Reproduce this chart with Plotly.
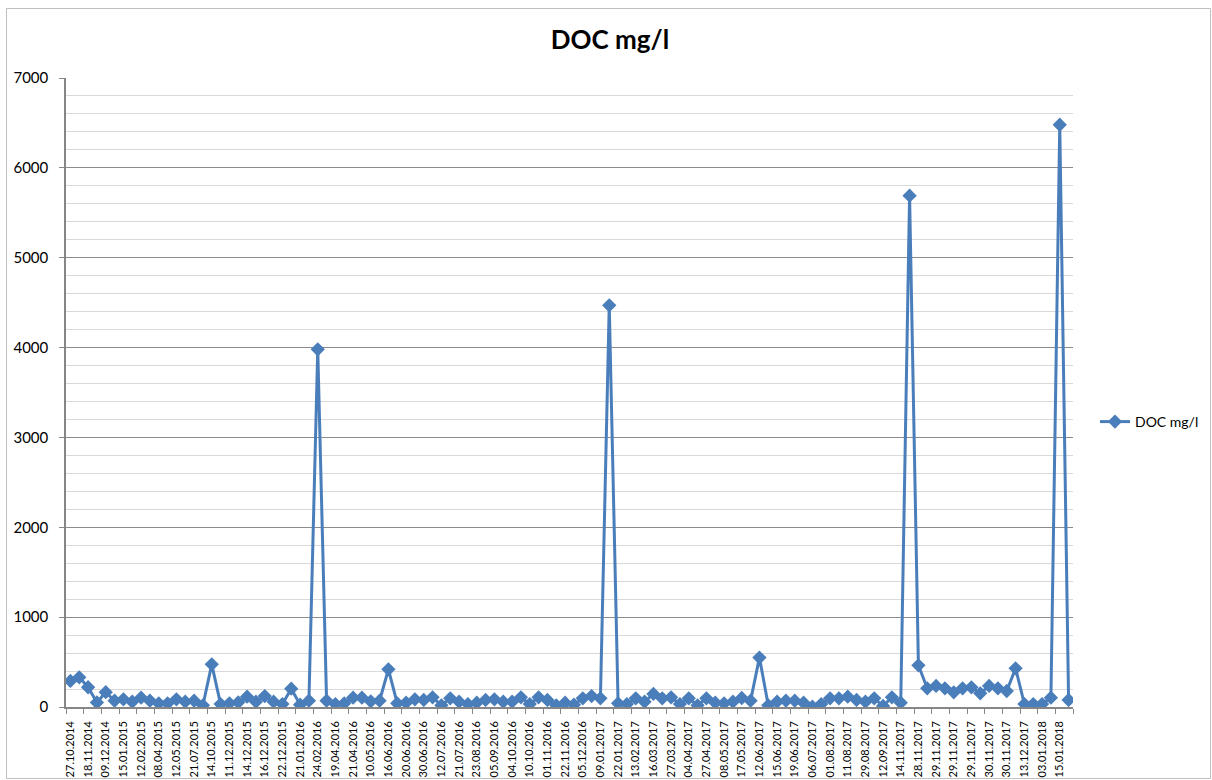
import plotly.graph_objects as go

tick_labels = [
    "27.10.2014", "18.11.2014", "09.12.2014", "15.01.2015", "12.02.2015", "08.04.2015",
    "12.05.2015", "21.07.2015", "14.10.2015", "11.12.2015", "14.12.2015", "16.12.2015",
    "22.12.2015", "21.01.2016", "24.02.2016", "19.04.2016", "21.04.2016", "10.05.2016",
    "16.06.2016", "20.06.2016", "30.06.2016", "12.07.2016", "21.07.2016", "23.08.2016",
    "05.09.2016", "04.10.2016", "10.10.2016", "01.11.2016", "22.11.2016", "05.12.2016",
    "09.01.2017", "22.01.2017", "13.02.2017", "16.03.2017", "27.03.2017", "04.04.2017",
    "27.04.2017", "08.05.2017", "17.05.2017", "12.06.2017", "15.06.2017", "19.06.2017",
    "06.07.2017", "01.08.2017", "11.08.2017", "29.08.2017", "12.09.2017", "14.11.2017",
    "28.11.2017", "29.11.2017", "29.11.2017", "29.11.2017", "30.11.2017", "30.11.2017",
    "13.12.2017", "03.01.2018", "15.01.2018",
]

doc_values = [
    290, 330, 220, 50, 165, 70, 85, 59, 104, 70,
    41, 41, 85, 59, 70, 19, 475, 33, 41, 52,
    115, 59, 122, 59, 33, 204, 26, 70, 3980, 70,
    33, 41, 104, 104, 63, 70, 419, 41, 48, 85,
    78, 108, 19, 96, 59, 33, 48, 78, 85, 59,
    59, 108, 33, 108, 78, 19, 48, 26, 96, 122,
    96, 4470, 41, 33, 96, 59, 145, 96, 108, 33,
    96, 19, 96, 48, 41, 59, 100, 70, 550, 19,
    59, 70, 70, 48, 4, 33, 96, 96, 115, 78,
    59, 96, 11, 108, 48, 5690, 464, 208, 234, 208,
    163, 208, 219, 152, 234, 208, 178, 430, 33, 33,
    33, 104, 6480, 78,
]

label_step = 2
x_idx = list(range(len(doc_values)))
tick_positions = x_idx[::label_step][:len(tick_labels)]

FONT = "Lato, 'Liberation Sans', Arial, sans-serif"
BLUE = "#4a7ebb"
AXIS = "#868686"

fig = go.Figure()
fig.add_trace(go.Scatter(
    x=x_idx, y=doc_values, mode="lines+markers", name="DOC mg/l",
    line=dict(color=BLUE, width=3),
    marker=dict(symbol="diamond", size=11, color=BLUE),
))

W, H = 1212, 780
ml, mr, mt, mb = 66, 139, 78, 73
pw, ph = W - ml - mr, H - mt - mb

fig.update_layout(
    width=W, height=H,
    margin=dict(l=ml, r=mr, t=mt, b=mb, autoexpand=False),
    paper_bgcolor="white", plot_bgcolor="white",
    font=dict(family=FONT, color="black", size=12),
    title=dict(text="<b>DOC mg/l</b>", x=(610) / W, xanchor="center",
               y=1 - 40 / H, yanchor="middle", font=dict(size=26, family=FONT)),
    showlegend=True,
    legend=dict(x=1 + 22 / pw, y=(H - mb - 422) / ph, xanchor="left", yanchor="middle",
                font=dict(size=14, family=FONT), bgcolor="rgba(0,0,0,0)",
                itemwidth=30, tracegroupgap=0),
    xaxis=dict(
        range=[-0.5, len(doc_values) - 0.5], automargin=False,
        tickmode="array", tickvals=tick_positions, ticktext=tick_labels,
        tickangle=-90, tickfont=dict(size=11, family=FONT),
        showgrid=False, zeroline=False,
        showline=True, linecolor=AXIS, linewidth=1.5,
        ticks="", ticklabelstandoff=8,
        minor=dict(tick0=-0.5, dtick=label_step, ticks="outside", ticklen=5,
                   tickcolor=AXIS, showgrid=False),
    ),
    yaxis=dict(
        range=[0, 7000], dtick=1000, tick0=0, automargin=False,
        tickfont=dict(size=15, family=FONT),
        showgrid=True, gridcolor="#8c8c8c", gridwidth=1,
        zeroline=False,
        showline=True, linecolor=AXIS, linewidth=1.5,
        ticks="outside", ticklen=5, tickcolor=AXIS, ticklabelstandoff=8,
        minor=dict(dtick=200, showgrid=True, gridcolor="#d9d9d9", gridwidth=1),
    ),
    shapes=[dict(
        type="rect", xref="paper", yref="paper",
        x0=-(ml - 6.5) / pw, x1=1 + (mr - 1.5) / pw,
        y0=-(mb - 1.5) / ph, y1=1 + (mt - 8.5) / ph,
        line=dict(color="#bfbfbf", width=1), fillcolor="rgba(0,0,0,0)",
        layer="below",
    )],
)

fig.write_html(
    "out.html",
    config={"displayModeBar": False},
    post_script="document.body.style.margin='0';document.body.style.overflow='hidden';",
)
